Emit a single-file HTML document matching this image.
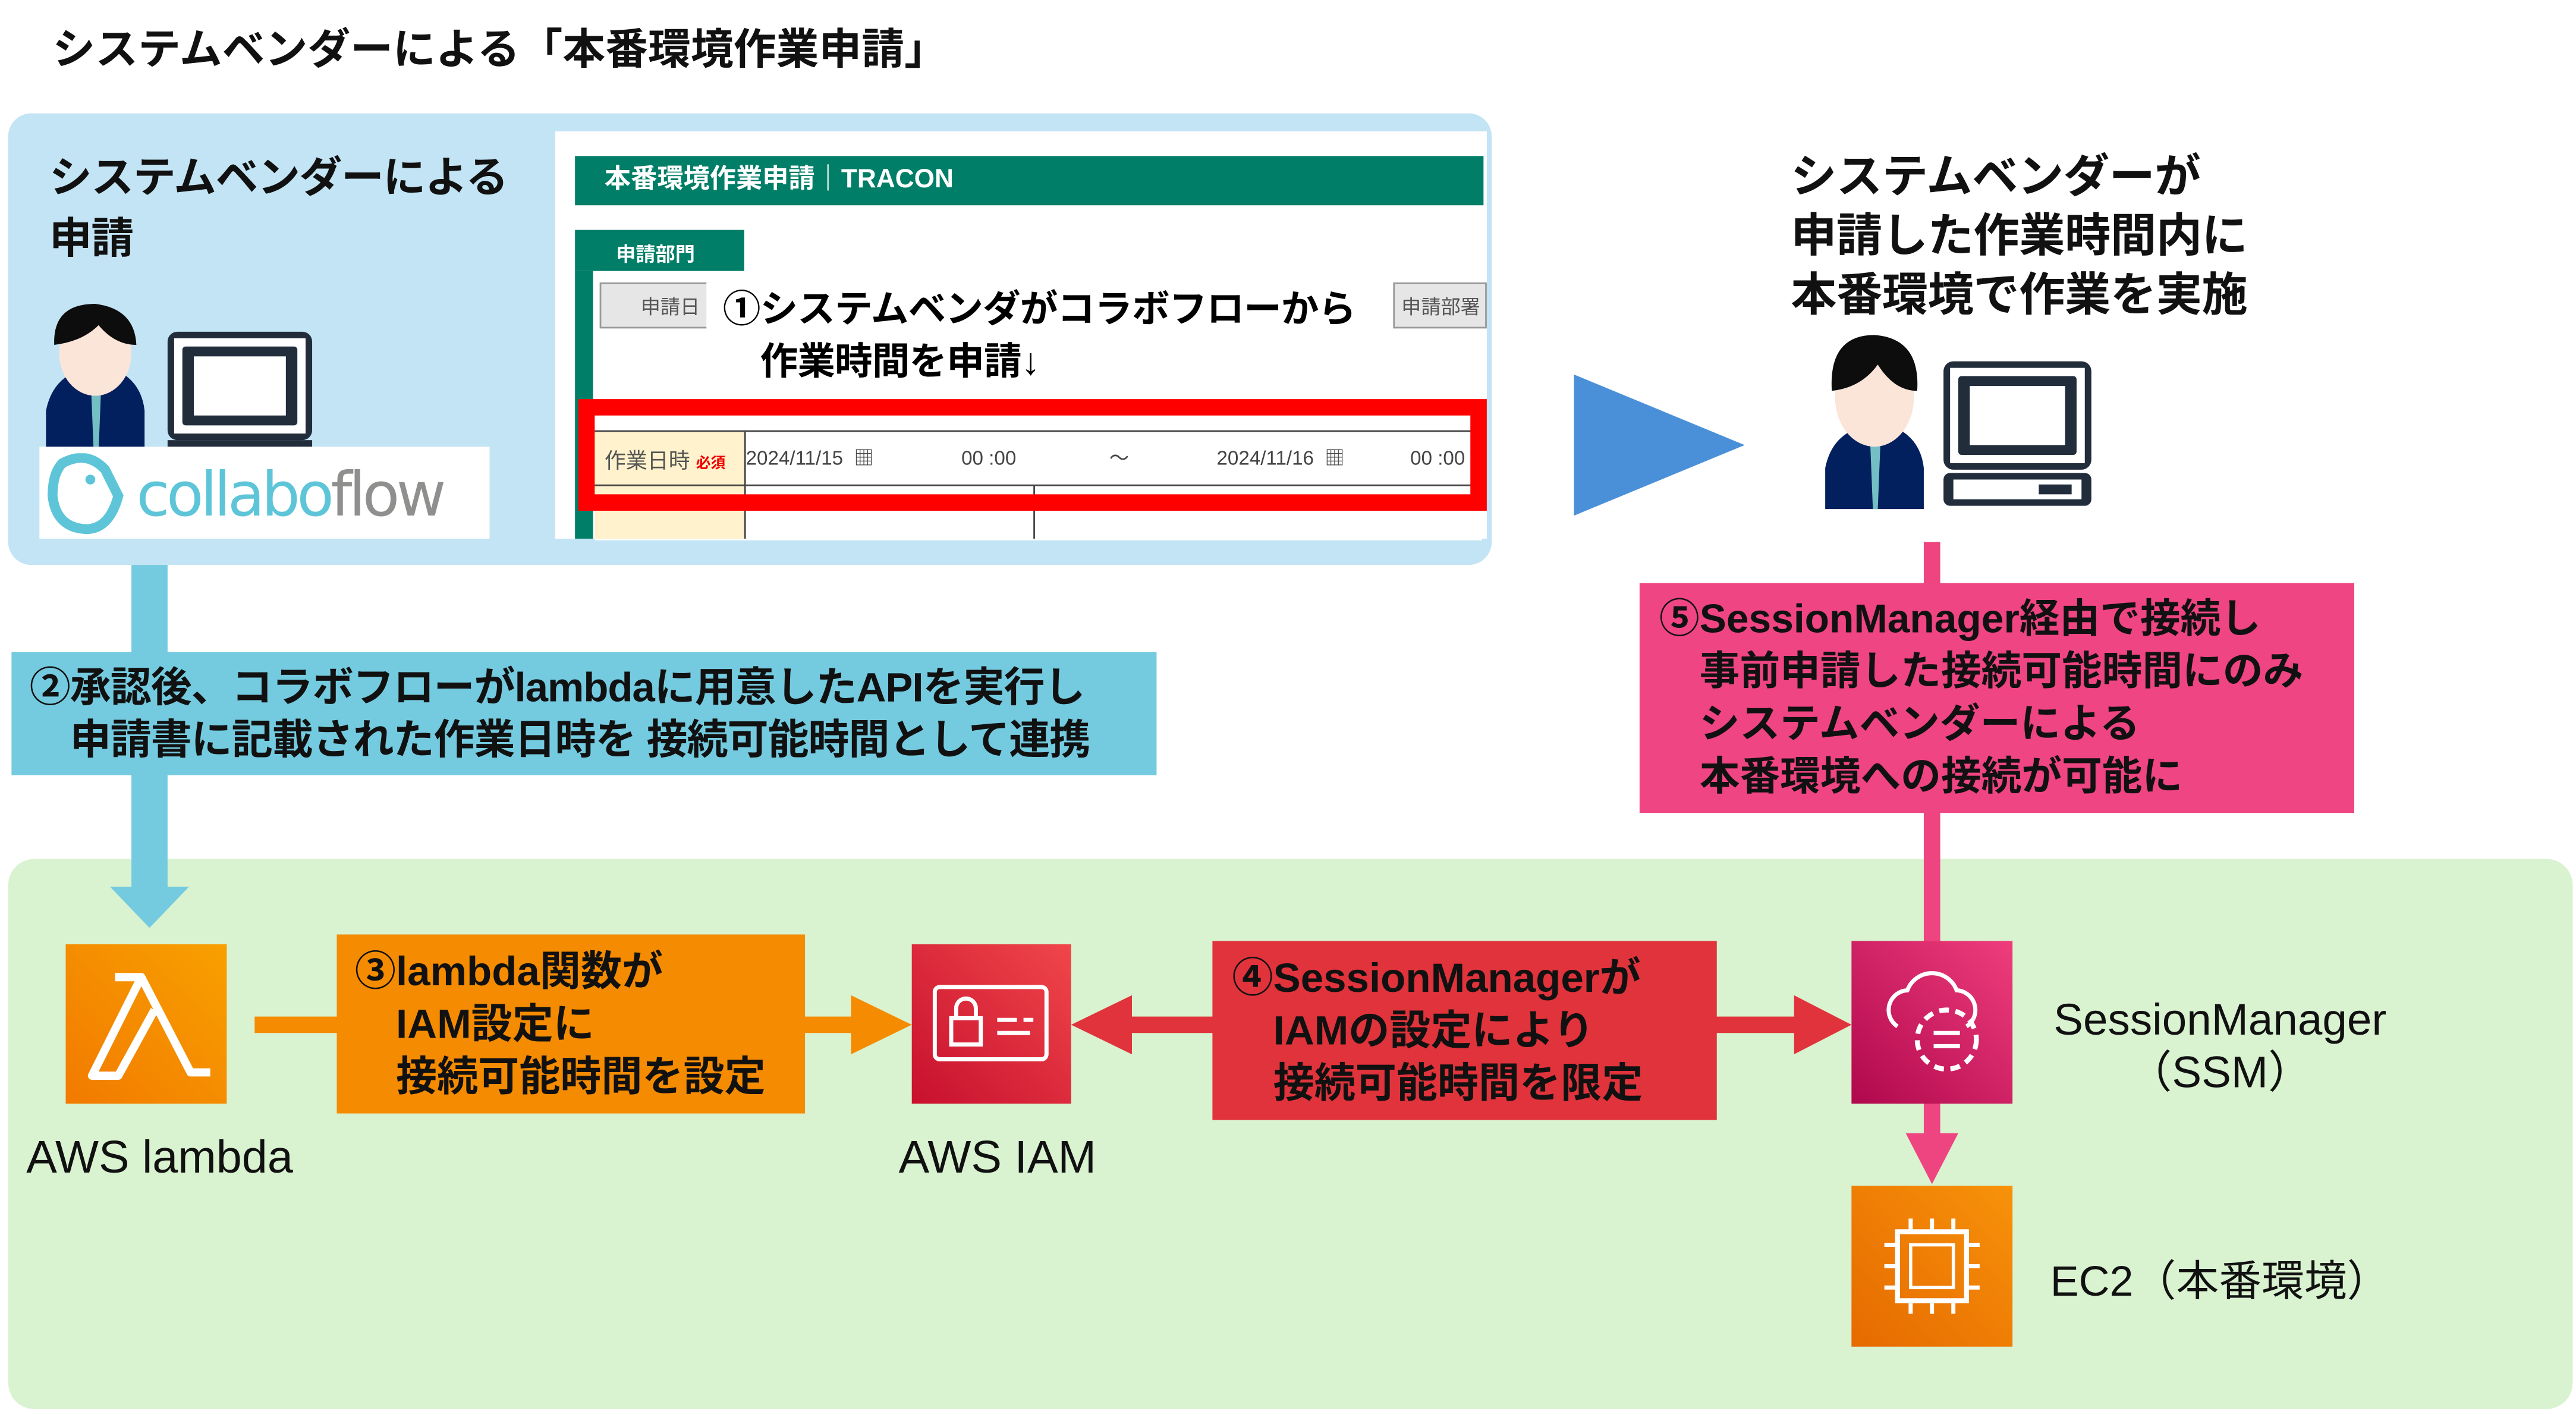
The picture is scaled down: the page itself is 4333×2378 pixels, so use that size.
<!DOCTYPE html>
<html><head><meta charset="utf-8"><style>
html,body{margin:0;padding:0;background:#fff;width:4333px;height:2378px;overflow:hidden}
#w{position:absolute;left:0;top:0;width:1568px;height:861px;transform:scale(2.7634,2.7619);transform-origin:0 0;font-family:"Liberation Sans","Noto Sans CJK JP",sans-serif}
.a{position:absolute}
.b{font-weight:bold;color:#111}
</style></head><body><div id="w">
<div class="a b" style="left:32px;top:10px;font-size:26px">システムベンダーによる「本番環境作業申請」</div>

<div class="a" style="left:5px;top:69px;width:903px;height:275px;background:#c2e4f4;border-radius:14px"></div>
<div class="a b" style="left:30px;top:90px;font-size:26px;line-height:37px;letter-spacing:-0.5px">システムベンダーによる<br>申請</div>
<svg class="a" style="left:20px;top:180px" width="180" height="95" viewBox="0 0 180 95">
<path d="M8 95 L8 70 Q12 50 30 45 L50 45 Q66 52 68 70 L68 95Z" fill="#021f5e"/>
<polygon points="35,45 42,45 40,95 37,95" fill="#74bfc4"/>
<ellipse cx="38" cy="35" rx="22" ry="26" fill="#fbe4d8"/>
<path d="M13 30 Q12 5 38 5 Q62 8 63 30 Q50 30 40 18 Q30 28 13 30Z" fill="#0d0d0d"/>
<rect x="82" y="22" width="88" height="66" rx="6" fill="#222d3c"/><rect x="86" y="26" width="80" height="58" fill="#fff"/><rect x="91" y="31" width="70" height="48" rx="2" fill="#222d3c"/><rect x="98" y="37" width="56" height="36" fill="#fff"/>
<rect x="82" y="88" width="88" height="7" fill="#222d3c"/>
</svg>
<div class="a" style="left:24px;top:272px;width:274px;height:56px;background:#fff"></div>
<svg class="a" style="left:28px;top:276px" width="268" height="50" viewBox="0 0 268 50"><path d="M10 6 Q25 -2 36 10 L44 26 Q38 48 22 46 Q6 44 4 26 Q4 12 10 6Z" fill="none" stroke="#5ec5d8" stroke-width="6"/><circle cx="27" cy="16" r="3" fill="#5ec5d8"/></svg>
<div class="a" style="left:83px;top:280px;font-size:37px;color:#5ec5d8;font-family:'DejaVu Sans',sans-serif;letter-spacing:-2px">collabo<span style="color:#8f908e">flow</span></div>

<div class="a" style="left:338px;top:80px;width:567px;height:248px;background:#fff"></div>
<div class="a" style="left:350px;top:95px;width:553px;height:30px;background:#007e67;color:#fff;font-weight:bold;font-size:16px;line-height:30px;padding-left:18px;box-sizing:border-box">本番環境作業申請｜TRACON</div>
<div class="a" style="left:350px;top:140px;width:103px;height:25px;background:#007e67;color:#fff;font-weight:bold;font-size:12px;line-height:30px;padding-left:25px;box-sizing:border-box">申請部門</div>
<div class="a" style="left:350px;top:165px;width:11px;height:163px;background:#007e67"></div>
<div class="a" style="left:365px;top:172px;width:70px;height:28px;background:#e6e6e6;border:1px solid #999;font-size:12px;color:#555;line-height:28px;padding-left:24px;box-sizing:border-box">申請日</div>
<div class="a" style="left:848px;top:172px;width:57px;height:28px;background:#e6e6e6;border:1px solid #999;font-size:12px;color:#555;line-height:28px;padding-left:4px;box-sizing:border-box;overflow:hidden;white-space:nowrap">申請部署</div>
<div class="a" style="left:430px;top:172px;width:415px;height:70px;background:#fff"></div>
<div class="a b" style="left:440px;top:172px;font-size:23px;line-height:32px;color:#000;letter-spacing:-0.3px">①システムベンダがコラボフローから<br>　作業時間を申請↓</div>
<div class="a" style="left:362px;top:262px;width:540px;height:66px;border-top:1px solid #444;background:#fff"></div>
<div class="a" style="left:362px;top:263px;width:91px;height:65px;background:#fff2cc;border-right:1px solid #444"></div>
<div class="a" style="left:362px;top:295px;width:540px;height:1px;background:#444"></div>
<div class="a" style="left:629px;top:296px;width:1px;height:32px;background:#444"></div>
<div class="a" style="left:368px;top:270px;font-size:13px;color:#555">作業日時 <span style="color:#e00;font-size:9px;font-weight:bold">必須</span></div>
<div class="a" style="left:454px;top:270px;font-size:12px;color:#444;white-space:pre">2024/11/15  ▦                00 :00                 ～                2024/11/16  ▦            00 :00</div>
<div class="a" style="left:352px;top:243px;width:553px;height:68px;border:10px solid #f00;box-sizing:border-box"></div>

<svg class="a" style="left:958px;top:228px" width="105" height="86"><polygon points="0,0 104,43 0,86" fill="#4a90d9"/></svg>
<div class="a b" style="left:1090px;top:90px;font-size:28px;line-height:36px;letter-spacing:-0.2px">システムベンダーが<br>申請した作業時間内に<br>本番環境で作業を実施</div>
<svg class="a" style="left:1103px;top:200px" width="180" height="110" viewBox="0 0 180 110">
<path d="M8 110 L8 85 Q12 65 30 60 L50 60 Q66 67 68 85 L68 110Z" fill="#021f5e"/>
<polygon points="35,60 42,60 40,110 37,110" fill="#74bfc4"/>
<ellipse cx="38" cy="42" rx="24" ry="30" fill="#fbe4d8"/>
<path d="M12 38 Q10 4 38 4 Q66 6 64 38 Q50 38 40 22 Q30 36 12 38Z" fill="#0d0d0d"/>
<rect x="80" y="20" width="90" height="66" rx="6" fill="#222d3c"/><rect x="84" y="24" width="82" height="58" fill="#fff"/><rect x="89" y="29" width="72" height="48" rx="2" fill="#222d3c"/><rect x="96" y="35" width="58" height="36" fill="#fff"/>
<rect x="80" y="88" width="90" height="20" rx="4" fill="#222d3c"/><rect x="86" y="92" width="78" height="12" fill="#fff"/><rect x="138" y="95" width="20" height="6" fill="#222d3c"/>
</svg>

<div class="a" style="left:80px;top:344px;width:22px;height:200px;background:#74cbe0"></div>
<div class="a" style="left:5px;top:523px;width:1561px;height:335px;background:#d9f2d0;border-radius:16px"></div>
<div class="a" style="left:80px;top:523px;width:22px;height:20px;background:#74cbe0"></div>
<svg class="a" style="left:67px;top:540px" width="50" height="26"><polygon points="0,0 48,0 24,25" fill="#74cbe0"/></svg>
<div class="a" style="left:7px;top:397px;width:697px;height:75px;background:#74cbe0"></div>
<div class="a b" style="left:18px;top:403px;font-size:25px;line-height:32px;letter-spacing:-0.4px">②承認後、コラボフローがlambdaに用意したAPIを実行し<br>　申請書に記載された作業日時を 接続可能時間として連携</div>

<div class="a" style="left:1171px;top:330px;width:10px;height:245px;background:#ee4480"></div>
<div class="a" style="left:998px;top:355px;width:435px;height:140px;background:#ef4582"></div>
<div class="a b" style="left:1010px;top:362px;font-size:24.5px;line-height:32px">⑤SessionManager経由で接続し<br>　事前申請した接続可能時間にのみ<br>　システムベンダーによる<br>　本番環境への接続が可能に</div>

<div class="a" style="left:40px;top:575px;width:98px;height:97px;background:linear-gradient(45deg,#f27a00,#f8a000)"></div>
<svg class="a" style="left:40px;top:575px" width="98" height="97"><path d="M30 20 L46 20 L76 78 L88 78 M46 20 L16 80 L32 80 L54 40" fill="none" stroke="#fff" stroke-width="5" stroke-linejoin="round"/></svg>
<div class="a" style="left:16px;top:689px;font-size:28px;color:#111">AWS lambda</div>
<div class="a" style="left:155px;top:619px;width:370px;height:10px;background:#f58b00"></div>
<svg class="a" style="left:518px;top:606px" width="38" height="36"><polygon points="0,0 37,18 0,36" fill="#f58b00"/></svg>
<div class="a" style="left:205px;top:569px;width:285px;height:109px;background:#f58b00"></div>
<div class="a b" style="left:216px;top:576px;font-size:25px;line-height:32px">③lambda関数が<br>　IAM設定に<br>　接続可能時間を設定</div>

<div class="a" style="left:555px;top:575px;width:97px;height:97px;background:linear-gradient(45deg,#c8102e,#f0464a)"></div>
<svg class="a" style="left:555px;top:575px" width="97" height="97"><rect x="14" y="26" width="68" height="44" rx="3" fill="none" stroke="#fff" stroke-width="2.5"/><rect x="24" y="45" width="18" height="16" fill="none" stroke="#fff" stroke-width="2.5"/><path d="M27 45 v-6 a6 6 0 0 1 12 0 v6" fill="none" stroke="#fff" stroke-width="2.5"/><path d="M52 46h12M52 54h20M68 46h6" stroke="#fff" stroke-width="2.5"/></svg>
<div class="a" style="left:547px;top:689px;font-size:28px;color:#111">AWS IAM</div>
<div class="a" style="left:685px;top:619px;width:420px;height:10px;background:#e0333b"></div>
<svg class="a" style="left:652px;top:606px" width="38" height="36"><polygon points="37,0 0,18 37,36" fill="#e0333b"/></svg>
<svg class="a" style="left:1092px;top:606px" width="36" height="36"><polygon points="0,0 35,18 0,36" fill="#e0333b"/></svg>
<div class="a" style="left:738px;top:573px;width:307px;height:109px;background:#e0333b"></div>
<div class="a b" style="left:750px;top:580px;font-size:25px;line-height:32px">④SessionManagerが<br>　IAMの設定により<br>　接続可能時間を限定</div>

<div class="a" style="left:1127px;top:573px;width:98px;height:99px;background:linear-gradient(45deg,#b0084d,#ef3d7c)"></div>
<svg class="a" style="left:1127px;top:573px" width="98" height="99"><path d="M28 52 a12 12 0 0 1 6-22 a16 16 0 0 1 30 0 a12 12 0 0 1 6 22" fill="none" stroke="#fff" stroke-width="2.5"/><circle cx="58" cy="60" r="18" fill="none" stroke="#fff" stroke-width="3" stroke-dasharray="6 4"/><path d="M50 56h16M50 64h16" stroke="#fff" stroke-width="2.5"/></svg>
<div class="a" style="left:1250px;top:605px;font-size:27px;color:#111;line-height:32px;text-align:center">SessionManager<br>（SSM）</div>
<div class="a" style="left:1171px;top:672px;width:10px;height:22px;background:#ee4480"></div>
<svg class="a" style="left:1160px;top:690px" width="34" height="32"><polygon points="0,0 32,0 16,31" fill="#ee4480"/></svg>

<div class="a" style="left:1127px;top:722px;width:98px;height:98px;background:linear-gradient(45deg,#e66a00,#f7920a)"></div>
<svg class="a" style="left:1127px;top:722px" width="98" height="98"><rect x="28" y="28" width="42" height="42" fill="none" stroke="#fff" stroke-width="3"/><rect x="36" y="36" width="26" height="26" fill="none" stroke="#fff" stroke-width="2"/><path d="M36 20v8M49 20v8M62 20v8M36 70v8M49 70v8M62 70v8M20 36h8M20 49h8M20 62h8M70 36h8M70 49h8M70 62h8" stroke="#fff" stroke-width="2.5"/></svg>
<div class="a" style="left:1248px;top:760px;font-size:26px;color:#111">EC2（本番環境）</div>
</div></body></html>
